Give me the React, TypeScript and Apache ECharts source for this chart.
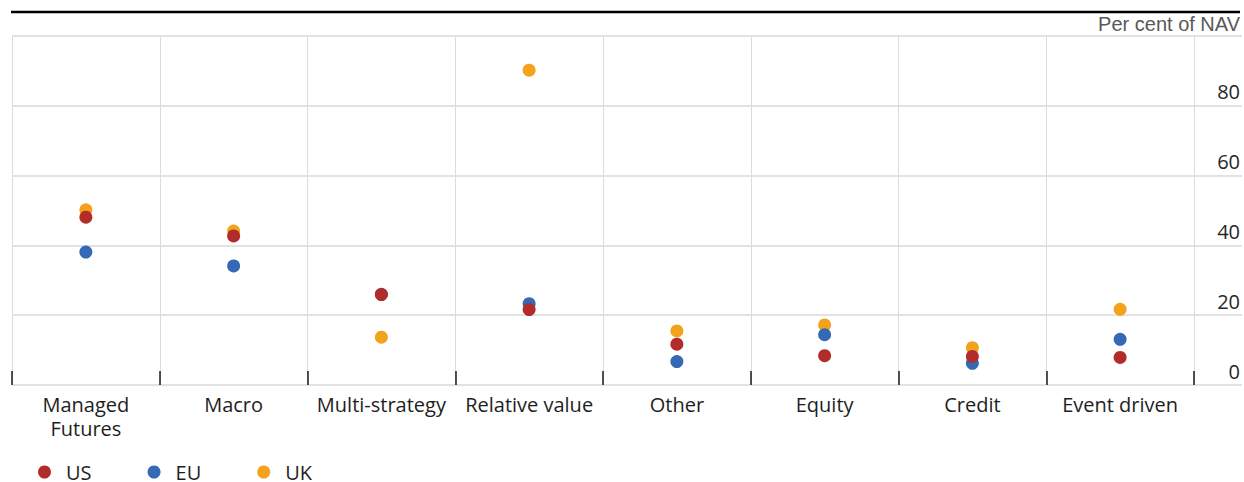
import React, { useEffect, useRef } from "react";
import * as echarts from "echarts";

const categories = [
  "Managed\nFutures",
  "Macro",
  "Multi-strategy",
  "Relative value",
  "Other",
  "Equity",
  "Credit",
  "Event driven",
];
const usValues = [48.1, 42.7, 25.9, 21.6, 11.7, 8.4, 8.2, 7.9];
const euValues = [38.1, 34.1, 26.0, 23.3, 6.7, 14.4, 6.2, 13.1];
const ukValues = [50.2, 44.1, 13.7, 90.2, 15.5, 17.2, 10.7, 21.7];
const yTicks = [0, 20, 40, 60, 80, 100];

const US_COLOR = "#b22d2a";
const EU_COLOR = "#3369b5";
const UK_COLOR = "#f2a31b";
const FONT = "'Open Sans', 'Noto Sans', sans-serif";

export default function App() {
  const ref = useRef<HTMLDivElement>(null);
  useEffect(() => {
    if (!ref.current) return;
    const chart = echarts.init(ref.current, undefined, { renderer: "svg" });
    const yMax = yTicks[yTicks.length - 1];
    const yStep = yTicks[1] - yTicks[0];
    chart.setOption({
      animation: false,
      backgroundColor: "#ffffff",
      textStyle: { fontFamily: FONT },
      grid: [
        { left: 12, right: 50, top: 36, bottom: 97, containLabel: false },
        { left: 12, right: 2, top: 36, bottom: 97, containLabel: false },
      ],
      xAxis: [
        {
          type: "category",
          gridIndex: 0,
          data: categories,
          boundaryGap: true,
          axisLine: { show: false },
          axisTick: {
            show: true,
            inside: true,
            length: 14,
            interval: 0,
            lineStyle: { color: "#1a1a1a", width: 1.5 },
          },
          splitLine: {
            show: true,
            interval: 0,
            lineStyle: { color: "#dcdcdc", width: 1 },
          },
          axisLabel: {
            interval: 0,
            margin: 7,
            color: "#1e1e1e",
            fontSize: 20,
            lineHeight: 24,
            fontFamily: FONT,
          },
        },
        {
          type: "value",
          gridIndex: 1,
          show: false,
        },
      ],
      yAxis: [
        {
          type: "value",
          gridIndex: 0,
          min: 0,
          max: yMax,
          interval: yStep,
          show: false,
          splitLine: { show: false },
        },
        {
          type: "value",
          gridIndex: 1,
          position: "right",
          min: 0,
          max: yMax,
          interval: yStep,
          axisLine: { show: false },
          axisTick: { show: false },
          splitLine: {
            show: true,
            lineStyle: { color: "#d9d9d9", width: 1.5 },
          },
          axisLabel: {
            inside: true,
            margin: 2,
            showMaxLabel: false,
            color: "#262626",
            fontSize: 20,
            fontFamily: FONT,
            verticalAlign: "bottom",
            lineHeight: 20,
            padding: [0, 0, 4, 0],
          },
        },
      ],
      legend: {
        data: ["US", "EU", "UK"],
        left: 33,
        top: 457,
        icon: "circle",
        itemWidth: 13,
        itemHeight: 13,
        itemGap: 56,
        textStyle: {
          color: "#1e1e1e",
          fontSize: 20,
          lineHeight: 20,
          fontFamily: FONT,
          padding: [0, 0, 0, 10],
        },
      },
      graphic: [
        {
          type: "line",
          shape: { x1: 11, y1: 12, x2: 1240, y2: 12 },
          style: { stroke: "#000000", lineWidth: 2.5 },
          silent: true,
        },
        {
          type: "text",
          right: 4,
          top: 14,
          style: {
            text: "Per cent of NAV",
            fill: "#595959",
            font: "20px 'Liberation Sans', Arial, sans-serif",
          },
          silent: true,
        },
      ],
      series: [
        {
          name: "UK",
          type: "scatter",
          xAxisIndex: 0,
          yAxisIndex: 0,
          data: ukValues,
          symbolSize: 13,
          itemStyle: { color: UK_COLOR, opacity: 1 },
        },
        {
          name: "EU",
          type: "scatter",
          xAxisIndex: 0,
          yAxisIndex: 0,
          data: euValues,
          symbolSize: 13,
          itemStyle: { color: EU_COLOR, opacity: 1 },
        },
        {
          name: "US",
          type: "scatter",
          xAxisIndex: 0,
          yAxisIndex: 0,
          data: usValues,
          symbolSize: 13,
          itemStyle: { color: US_COLOR, opacity: 1 },
        },
      ],
    });
    return () => chart.dispose();
  }, []);
  return (
    <div
      ref={ref}
      style={{ position: "fixed", left: 0, top: 0, width: 1244, height: 482 }}
    />
  );
}
